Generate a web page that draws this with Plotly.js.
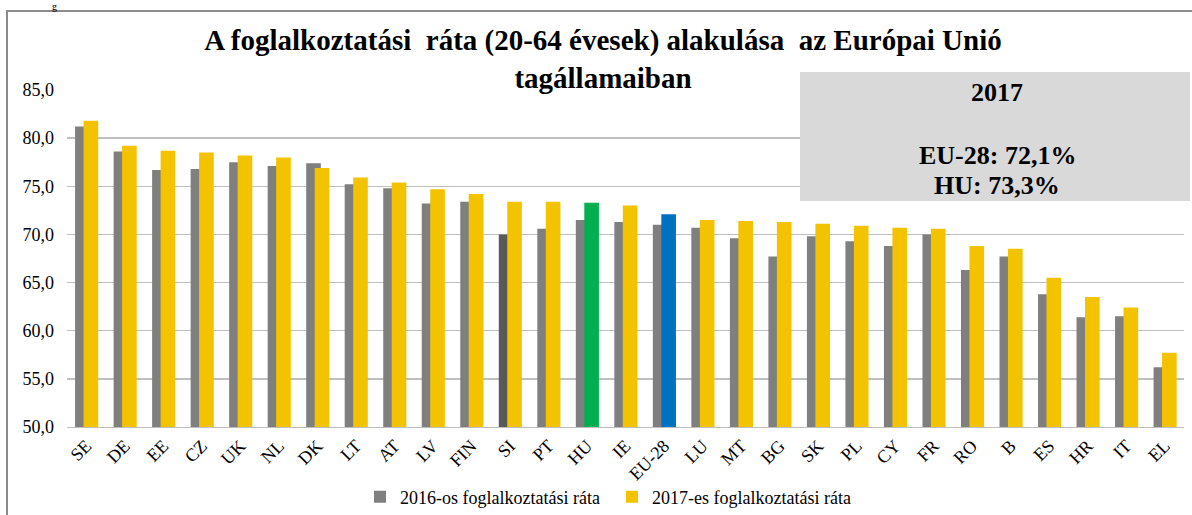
<!DOCTYPE html>
<html>
<head>
<meta charset="utf-8">
<script src="https://cdn.plot.ly/plotly-3.0.1.min.js"></script>
<style>html,body{margin:0;padding:0;background:#fff;}#chart{width:1192px;height:515px;}</style>
</head>
<body>
<div id="chart"></div>
<script>
// ---- data ----
const categories = ['SE','DE','EE','CZ','UK','NL','DK','LT','AT','LV','FIN','SI','PT','HU','IE','EU-28','LU','MT','BG','SK','PL','CY','FR','RO','B','ES','HR','IT','EL'];
const rate2016 = [81.2,78.6,76.7,76.8,77.5,77.1,77.4,75.2,74.8,73.2,73.4,70.0,70.6,71.5,71.3,71.0,70.7,69.6,67.7,69.8,69.3,68.8,70.0,66.3,67.7,63.8,61.4,61.5,56.2];
const rate2017 = [81.8,79.2,78.7,78.5,78.2,78.0,76.9,75.9,75.4,74.7,74.2,73.4,73.4,73.3,73.0,72.1,71.5,71.4,71.3,71.1,70.9,70.7,70.6,68.8,68.5,65.5,63.5,62.4,57.7];
const seriesNames = ['2016-os foglalkoztatási ráta','2017-es foglalkoztatási ráta'];
const titleText = 'A foglalkoztatási  ráta (20-64 évesek) alakulása  az Európai Unió<br>tagállamaiban';
const yTicks = [50,55,60,65,70,75,80,85];

// ---- styling ----
const GRAY = '#7f7f7f', GRAY_DARK = '#595959', YELLOW = '#f4c300', GREEN = '#00b050', BLUE = '#0070c0';
const FONT = 'Liberation Serif, Times New Roman, serif';
const col2016 = categories.map(c => c === 'SI' ? GRAY_DARK : GRAY);
const col2017 = categories.map(c => c === 'HU' ? GREEN : (c === 'EU-28' ? BLUE : YELLOW));

const fmt = v => v.toFixed(1).replace('.', ',');
const euVal = rate2017[categories.indexOf('EU-28')];
const huVal = rate2017[categories.indexOf('HU')];

// pixel helpers for paper coords
const W = 1192, H = 515, ML = 67, MR = 8, MT = 90, MB = 88;
const PW = W - ML - MR, PH = H - MT - MB;
const px = x => (x - ML) / PW;
const py = y => (H - MB - y) / PH;

const traces = [
  {type:'bar', name: seriesNames[0], x: categories, y: rate2016,
   marker:{color: col2016}, width: 0.38, offset: -0.29, hoverinfo:'x+y'},
  {type:'bar', name: seriesNames[1], x: categories, y: rate2017,
   marker:{color: col2017}, width: 0.38, offset: -0.07, hoverinfo:'x+y'}
];

const layout = {
  width: W, height: H,
  margin: {l: ML, r: MR, t: MT, b: MB, pad: 0, autoexpand: false},
  paper_bgcolor: '#ffffff', plot_bgcolor: '#ffffff',
  barmode: 'overlay',
  separators: ', ',
  font: {family: FONT, color: '#000'},
  title: {text: titleText, font: {family: FONT, size: 29, weight: 'bold', color: '#000'},
          x: px(603), xanchor: 'center', xref: 'paper', y: 1 - 50/H, yanchor: 'top', automargin: false},
  xaxis: {type: 'category', tickangle: -45, tickfont: {family: FONT, size: 18, color: '#000'},
          showline: true, linecolor: '#bfbfbf', linewidth: 1.3, showgrid: false, ticks: '',
          range: [-0.5, categories.length - 0.5], fixedrange: true, automargin: false},
  yaxis: {range: [50, 85], tickvals: yTicks, tickformat: '.1f', tickfont: {family: FONT, size: 18, color: '#000'},
          showgrid: true, gridcolor: '#bfbfbf', gridwidth: 1.3, zeroline: false, showline: false,
          ticks: '', ticklabelstandoff: 12, fixedrange: true, automargin: false},
  showlegend: true,
  legend: {orientation: 'h', x: px(360), xanchor: 'left', y: py(497), yanchor: 'middle',
           font: {family: FONT, size: 18, color: '#000'}, itemwidth: 30, entrywidth: 207,
           traceorder: 'normal', bgcolor: 'rgba(0,0,0,0)'},
  shapes: [
    {type: 'rect', xref: 'paper', yref: 'paper', x0: px(7), x1: px(1260), y0: py(600), y1: py(11),
     line: {color: '#8c8c8c', width: 2}, fillcolor: 'rgba(0,0,0,0)', layer: 'above'},
    {type: 'rect', xref: 'paper', yref: 'paper', x0: px(800), x1: px(1190), y0: py(201), y1: py(72),
     line: {width: 0}, fillcolor: '#d9d9d9', layer: 'above'}
  ],
  annotations: [
    {xref: 'paper', yref: 'paper', x: px(997), y: py(93), text: '<b>2017</b>', showarrow: false,
     font: {family: FONT, size: 26, color: '#000'}, xanchor: 'center', yanchor: 'middle'},
    {xref: 'paper', yref: 'paper', x: px(997), y: py(155), text: '<b>EU-28: ' + fmt(euVal) + '%</b>', showarrow: false,
     font: {family: FONT, size: 26, color: '#000'}, xanchor: 'center', yanchor: 'middle'},
    {xref: 'paper', yref: 'paper', x: px(997), y: py(185), text: '<b>HU: ' + fmt(huVal) + '%</b>', showarrow: false,
     font: {family: FONT, size: 26, color: '#000'}, xanchor: 'center', yanchor: 'middle'},
    {xref: 'paper', yref: 'paper', x: px(54), y: py(0), text: 'g', showarrow: false,
     font: {family: FONT, size: 10, color: '#000'}, xanchor: 'center', yanchor: 'top', borderpad: 0}
  ]
};

Plotly.newPlot('chart', traces, layout, {displayModeBar: false, staticPlot: true});
</script>
</body>
</html>
